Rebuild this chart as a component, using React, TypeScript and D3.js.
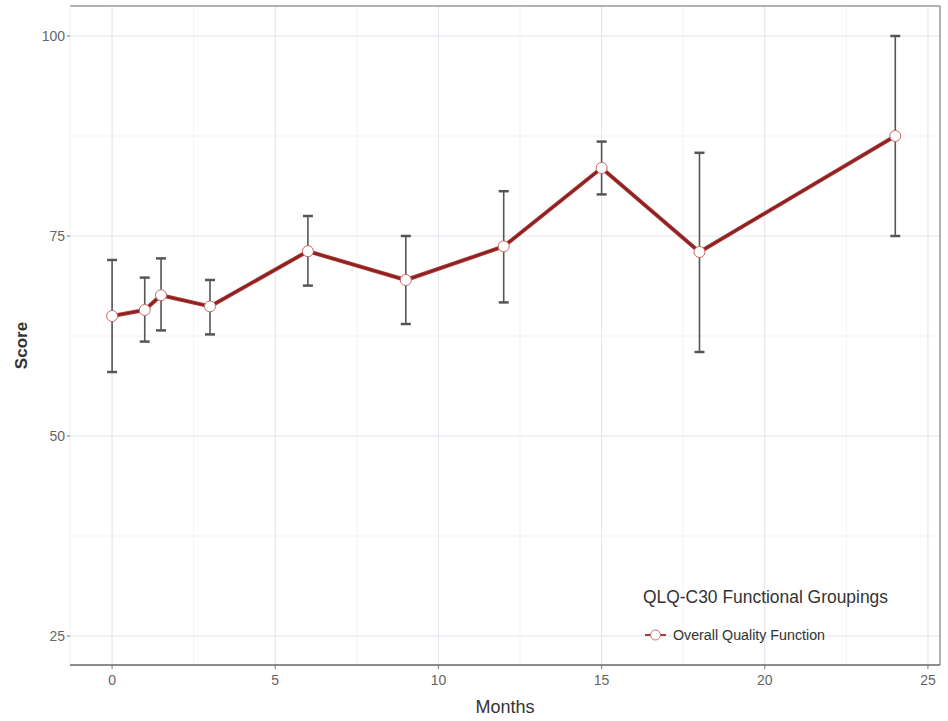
import React from "react";
import * as d3 from "d3";

const months = [0, 1, 1.5, 3, 6, 9, 12, 15, 18, 24];
const scores = [65, 65.75, 67.6, 66.2, 73.1, 69.5, 73.7, 83.5, 73, 87.5];
const upper = [72, 69.8, 72.2, 69.5, 77.5, 75, 80.6, 86.8, 85.4, 100];
const lower = [58, 61.8, 63.2, 62.7, 68.8, 64, 66.7, 80.2, 60.5, 75];
const xTicks = [0, 5, 10, 15, 20, 25];
const yTicks = [25, 50, 75, 100];
const xMinor = [2.5, 7.5, 12.5, 17.5, 22.5];
const yMinor = [37.5, 62.5, 87.5];

const W = 948;
const H = 721;
const left = 70;
const right = 940;
const top = 6;
const bottom = 665;

export default function App() {
  const x = d3.scaleLinear().domain([-1.29, 25.37]).range([left, right]);
  const y = d3.scaleLinear().domain([21.375, 103.75]).range([bottom, top]);
  const pts = months.map((m, i) => ({ m, s: scores[i], hi: upper[i], lo: lower[i] }));
  const path = d3
    .line<{ m: number; s: number }>()
    .x((d) => x(d.m))
    .y((d) => y(d.s))(pts);
  const font = "'Liberation Sans', Arial, sans-serif";

  return (
    <svg
      width={W}
      height={H}
      style={{ position: "absolute", left: 0, top: 0 }}
      fontFamily={font}
    >
      <rect x={0} y={0} width={W} height={H} fill="#fff" />
      {/* grid */}
      {xMinor.map((t) => (
        <line key={"xm" + t} x1={x(t)} x2={x(t)} y1={top} y2={bottom} stroke="#f3f3f7" strokeWidth={1} />
      ))}
      {yMinor.map((t) => (
        <line key={"ym" + t} x1={left} x2={right} y1={y(t)} y2={y(t)} stroke="#f3f3f7" strokeWidth={1} />
      ))}
      {xTicks.map((t) => (
        <line key={"xg" + t} x1={x(t)} x2={x(t)} y1={top} y2={bottom} stroke="#e6e6ee" strokeWidth={1.2} />
      ))}
      {yTicks.map((t) => (
        <line key={"yg" + t} x1={left} x2={right} y1={y(t)} y2={y(t)} stroke="#e6e6ee" strokeWidth={1.2} />
      ))}
      {/* panel border */}
      <line x1={left} x2={right} y1={top} y2={top} stroke="#999" strokeWidth={1.5} />
      <line x1={right} x2={right} y1={top} y2={bottom} stroke="#999" strokeWidth={1.5} />
      <line x1={left} x2={left} y1={top} y2={bottom} stroke="#eee" strokeWidth={1} />
      <line x1={left} x2={right} y1={bottom} y2={bottom} stroke="#666" strokeWidth={1.5} />

      {/* y axis */}
      {yTicks.map((t) => (
        <g key={"yt" + t}>
          <line x1={left - 3} x2={left} y1={y(t)} y2={y(t)} stroke="#777" />
          <text x={left - 5} y={y(t)} dy="0.35em" textAnchor="end" fontSize={14} fill="#666">
            {t}
          </text>
        </g>
      ))}
      <text
        transform={`translate(27,${(top + bottom) / 2 + 10}) rotate(-90)`}
        textAnchor="middle"
        fontSize={17}
        fontWeight="bold"
        fill="#333"
      >
        Score
      </text>

      {/* x axis */}
      {xTicks.map((t) => (
        <g key={"xt" + t}>
          <line x1={x(t)} x2={x(t)} y1={bottom} y2={bottom + 4} stroke="#777" />
          <text x={x(t)} y={bottom + 20} textAnchor="middle" fontSize={14} fill="#666">
            {t}
          </text>
        </g>
      ))}
      <text x={505} y={713} textAnchor="middle" fontSize={18} fill="#333">
        Months
      </text>

      {/* error bars */}
      {pts.map((p) => (
        <g key={"eb" + p.m} stroke="#555" strokeWidth={1.6}>
          <line x1={x(p.m)} x2={x(p.m)} y1={y(p.hi)} y2={y(p.lo)} />
          <line x1={x(p.m) - 5} x2={x(p.m) + 5} y1={y(p.hi)} y2={y(p.hi)} strokeWidth={2.5} />
          <line x1={x(p.m) - 5} x2={x(p.m) + 5} y1={y(p.lo)} y2={y(p.lo)} strokeWidth={2.5} />
        </g>
      ))}

      {/* line */}
      <path d={path ?? ""} fill="none" stroke="#a83a3a" strokeWidth={4} strokeLinejoin="round" />
      <path d={path ?? ""} fill="none" stroke="#8e1f1f" strokeWidth={2} strokeLinejoin="round" />
      {pts.map((p) => (
        <circle key={"pt" + p.m} cx={x(p.m)} cy={y(p.s)} r={5.5} fill="#fff" stroke="#c46a6a" strokeWidth={1} />
      ))}

      {/* legend */}
      <text x={643} y={603} fontSize={17.5} textLength={245} lengthAdjust="spacingAndGlyphs" fill="#333">
        QLQ-C30 Functional Groupings
      </text>
      <line x1={645} x2={666} y1={635} y2={635} stroke="#a83a3a" strokeWidth={2} />
      <circle cx={655.5} cy={635} r={5} fill="#fff" stroke="#c46a6a" strokeWidth={1} />
      <text x={673} y={635} dy="0.35em" fontSize={14} textLength={152} lengthAdjust="spacingAndGlyphs" fill="#333">
        Overall Quality Function
      </text>
    </svg>
  );
}
